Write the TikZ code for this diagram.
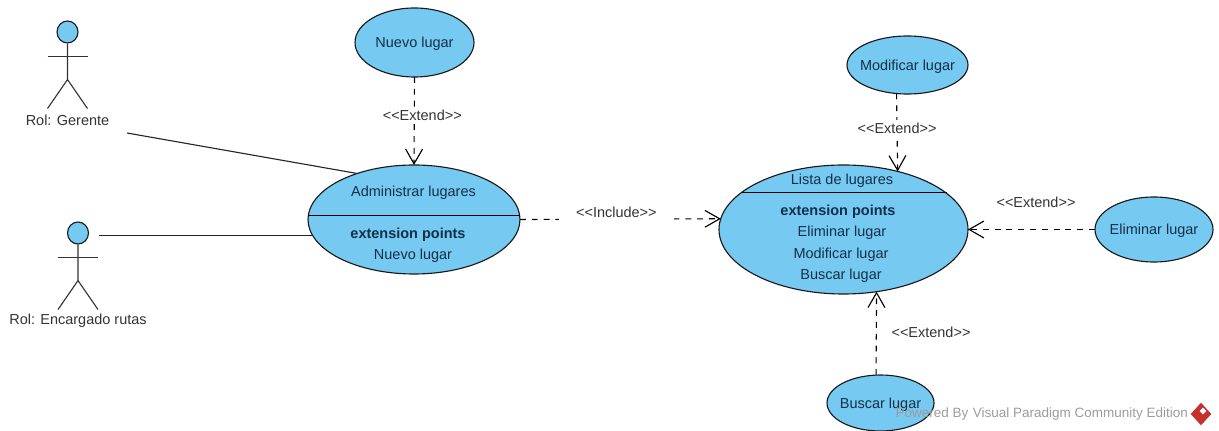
\documentclass[tikz,border=0pt]{standalone}
\usepackage{fontspec}
\setmainfont{Liberation Sans}
\usetikzlibrary{arrows.meta,shapes.geometric}
\definecolor{ucfill}{HTML}{76C9F1}
\definecolor{uctext}{HTML}{12304A}
\definecolor{wmgrey}{HTML}{9C9C9C}
\definecolor{wmred}{HTML}{C8302F}
\newcommand{\stereo}[1]{<{}<#1>{}>}
\tikzset{
  usecase/.style n args={2}{ellipse,draw=black!90,fill=ucfill,inner sep=0pt,outer sep=0pt,
    minimum width=#1,minimum height=#2},
  uctxt/.style={text=uctext,inner sep=0pt,yshift=-1pt},
  lbl/.style={text=black!80,inner sep=2pt},
  extendline/.style={dash pattern=on 4.2pt off 4.2pt,-{Straight Barb[length=10.5pt,width=12pt]}},
}
\begin{document}
\begin{tikzpicture}[thick,font=\fontsize{10.3}{12}\selectfont]
    \def\U{*0.025cm}
    \useasboundingbox(0,0) rectangle (1219\U,-431\U);
    % casos de uso
    \node[usecase={119\U}{69\U}] (nuevo) at (414.5\U,-42.5\U) {};
    \node[usecase={212\U}{109\U}] (admin) at (414\U,-219.5\U) {};
    \node[usecase={121\U}{58\U}] (modificar) at (907.5\U,-65\U) {};
    \node[usecase={249\U}{129\U}] (lista) at (843.5\U,-229.5\U) {};
    \node[usecase={118\U}{65\U}] (eliminar) at (1154\U,-229.5\U) {};
    \node[usecase={107\U}{56\U}] (buscar) at (880.5\U,-403\U) {};
    % textos
    \node[uctxt] (nuevotxt) at (nuevo) {Nuevo lugar};
    \node[uctxt] (modificartxt) at (modificar) {Modificar lugar};
    \node[uctxt] (eliminartxt) at (eliminar) {Eliminar lugar};
    \node[uctxt] (buscartxt) at (buscar) {Buscar lugar};
    % compartimentos
    \draw (admin.178)--(admin.178 -| admin.2);
    \draw (lista.160.4)--(lista.160.4 -| lista.19.6);
    \node[uctxt] (admintit) at (413.5\U,-191\U) {Administrar lugares};
    \node[uctxt] (adminext) at (408\U,-233\U) {\textbf{extension points}};
    \node[uctxt] (adminnuevo) at (413\U,-254\U) {Nuevo lugar};
    \node[uctxt] (listatit) at (842\U,-179\U) {Lista de lugares};
    \node[uctxt] (listaext) at (838\U,-210\U) {\textbf{extension points}};
    \node[uctxt] (listaelim) at (842\U,-231\U) {Eliminar lugar};
    \node[uctxt] (listamod) at (841\U,-253\U) {Modificar lugar};
    \node[uctxt] (listabus) at (841\U,-274\U) {Buscar lugar};
    % actores
    \foreach \name/\x/\y/\rol in {gerente/67.5/32/Rol: Gerente,encargado/78/233/Rol: Encargado rutas}{
      \node[ellipse,draw=black!90,fill=ucfill,inner sep=0pt,minimum width=21\U,minimum height=22\U]
        (\name) at (\x\U,-\y\U) {};
      \draw[black!80] (\name.south)--++(0,-36\U) coordinate (\name hip)
        --++(-20\U,-29\U) (\name hip)--++(20\U,-29\U);
      \draw[black!80] ([shift={(-20\U,-13\U)}]\name.south)--++(40\U,0);
      \node[lbl] (\name rol) at (\x\U,-\y\U-88\U) {\rol};
    }
    % asociaciones
    \coordinate (gerentefin) at (127\U,-133\U);
    \draw[black!85] (gerentefin)--(admin.141.8);
    \coordinate (encargadofin) at (99\U,-236\U);
    \draw[black!85] (encargadofin |- admin.189.6)--(admin.189.6);
    % relaciones
    \draw[extendline] (nuevo.south)--node[lbl,fill=white,pos=.43,xshift=8\U]{\stereo{Extend}}(admin.north);
    \draw[extendline] (admin.east)--node[lbl,fill=white,inner xsep=12.5pt,yshift=7\U,pos=.48]{\stereo{Include}}(lista.175.1);
    \draw[extendline] (modificar.249.8)--node[lbl,fill=white,pos=.45]{\stereo{Extend}}(lista.47.4);
    \draw[extendline] (eliminar.west)--(lista.east);
    \node[lbl] (extelim) at (1036\U,-202\U) {\stereo{Extend}};
    \draw[extendline] (buscar.99.2)--(lista.-62.4);
    \node[lbl] (extbus) at (931\U,-332\U) {\stereo{Extend}};
    % marca de agua
    \node[text=wmgrey,anchor=west,inner sep=0pt,font=\fontsize{9.6}{12}\selectfont] (marca) at (895\U,-414\U) {Powered By\,\,Visual Paradigm Community Edition};
    \node[diamond,fill=wmred,inner sep=0pt,minimum width=21\U,minimum height=23\U] (logo) at (1201\U,-414\U) {};
    \node[diamond,fill=white,inner sep=0pt,minimum width=7\U,minimum height=7\U] (logoc) at (1203\U,-411\U) {};
  \end{tikzpicture}
\end{document}
